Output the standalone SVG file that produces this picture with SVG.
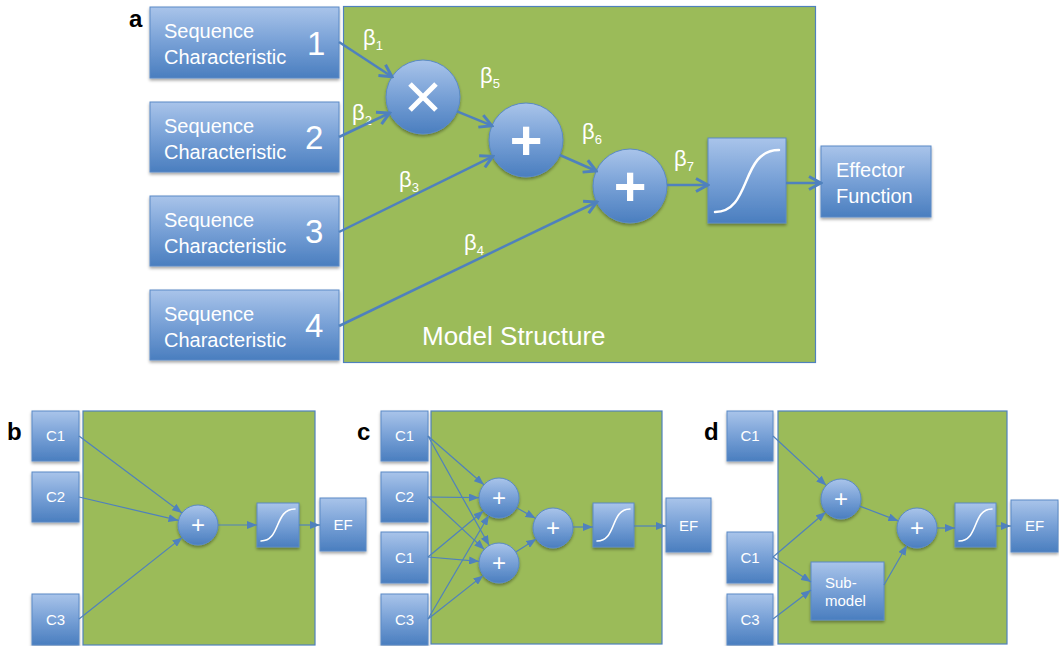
<svg xmlns="http://www.w3.org/2000/svg" width="1059" height="646" viewBox="0 0 1059 646">
  <defs>
    <linearGradient id="blueFill" x1="0" y1="0" x2="0" y2="1">
      <stop offset="0" stop-color="#a9c4ea"/>
      <stop offset="0.5" stop-color="#77a0d6"/>
      <stop offset="1" stop-color="#4a7ebf"/>
    </linearGradient>
    <filter id="shadow" x="-20%" y="-20%" width="140%" height="150%">
      <feDropShadow dx="0" dy="2" stdDeviation="1.5" flood-color="#000" flood-opacity="0.35"/>
    </filter>
    <marker id="openArrow" markerUnits="userSpaceOnUse" viewBox="0 0 16 16" refX="14" refY="8" markerWidth="16" markerHeight="16" orient="auto">
      <path d="M2,1.5 L14,8 L2,14.5" fill="none" stroke="#4f81bd" stroke-width="3" stroke-linejoin="miter"/>
    </marker>
    <marker id="tri" markerUnits="userSpaceOnUse" viewBox="0 0 10 8" refX="10" refY="4" markerWidth="10" markerHeight="8" orient="auto">
      <path d="M0,0 L10,4 L0,8 z" fill="#4f81bd"/>
    </marker>
  </defs>
  <style>
    .panel { fill: #9bbb59; stroke: #4f81bd; stroke-width: 1.2; }
    .box { fill: url(#blueFill); stroke: #5a8ac6; stroke-width: 1; filter: url(#shadow); }
    .node { fill: url(#blueFill); stroke: #5a8ac6; stroke-width: 1; filter: url(#shadow); }
    .sig { fill: none; stroke: #ffffff; stroke-width: 2.5; stroke-linecap: round; }
    .sigS { fill: none; stroke: #ffffff; stroke-width: 1.6; stroke-linecap: round; }
    .t { font-family: "Liberation Sans", Arial, sans-serif; fill: #ffffff; }
    .seq { font-size: 20px; }
    .num { font-size: 33px; }
    .beta { font-size: 22px; }
    .sub { font-size: 13px; }
    .small { font-size: 15px; text-anchor: middle; }
    .op { font-size: 56px; font-weight: bold; text-anchor: middle; }
    .opS { font-size: 24px; text-anchor: middle; }
    .lab { font-family: "Liberation Sans", Arial, sans-serif; font-weight: bold; font-size: 24px; fill: #000000; }
    .ca { fill: none; stroke: #4f81bd; stroke-width: 2.5; marker-end: url(#openArrow); }
    .cs { fill: none; stroke: #4f81bd; stroke-width: 1.2; marker-end: url(#tri); }
  </style>

  <!-- ===== Panel a ===== -->
  <text class="lab" x="129" y="27">a</text>
  <rect id="a-structure" class="panel" x="343.5" y="6.5" width="472" height="356"/>

  <g id="a-seq1">
    <rect class="box" x="150" y="7" width="189" height="71"/>
    <text class="t seq" x="164" y="38">Sequence</text>
    <text class="t seq" x="164" y="64">Characteristic</text>
    <text class="t num" x="307" y="55">1</text>
  </g>
  <g id="a-seq2">
    <rect class="box" x="150" y="102" width="189" height="70"/>
    <text class="t seq" x="164" y="133">Sequence</text>
    <text class="t seq" x="164" y="159">Characteristic</text>
    <text class="t num" x="305" y="149">2</text>
  </g>
  <g id="a-seq3">
    <rect class="box" x="150" y="196" width="189" height="70"/>
    <text class="t seq" x="164" y="227">Sequence</text>
    <text class="t seq" x="164" y="253">Characteristic</text>
    <text class="t num" x="305" y="243">3</text>
  </g>
  <g id="a-seq4">
    <rect class="box" x="150" y="290" width="189" height="70"/>
    <text class="t seq" x="164" y="321">Sequence</text>
    <text class="t seq" x="164" y="347">Characteristic</text>
    <text class="t num" x="305" y="337">4</text>
  </g>

  <g id="a-mult">
    <circle class="node" cx="423" cy="97" r="37"/>
    <path d="M410,84 L436,110 M436,84 L410,110" stroke="#ffffff" stroke-width="5"/>
  </g>
  <g id="a-sum1">
    <circle class="node" cx="526" cy="140" r="37"/>
    <text class="t op" x="526" y="159">+</text>
  </g>
  <g id="a-sum2">
    <circle class="node" cx="630" cy="186" r="37"/>
    <text class="t op" x="630" y="205">+</text>
  </g>
  <g id="a-sigmoid">
    <rect class="box" x="708" y="138" width="78" height="85"/>
    <path class="sig" d="M715,212 C752,212 740,150 779,150"/>
  </g>
  <g id="a-effector">
    <rect class="box" x="821" y="146" width="110" height="71"/>
    <text class="t seq" x="836" y="177">Effector</text>
    <text class="t seq" x="836" y="203">Function</text>
  </g>

  <text class="t" x="422" y="345" font-size="26">Model Structure</text>

  <g id="a-weights">
    <text class="t beta" x="363" y="45">β<tspan class="sub" dy="5">1</tspan></text>
    <text class="t beta" x="352" y="120">β<tspan class="sub" dy="5">2</tspan></text>
    <text class="t beta" x="399" y="187">β<tspan class="sub" dy="5">3</tspan></text>
    <text class="t beta" x="464" y="250">β<tspan class="sub" dy="5">4</tspan></text>
    <text class="t beta" x="480" y="83">β<tspan class="sub" dy="5">5</tspan></text>
    <text class="t beta" x="582" y="139">β<tspan class="sub" dy="5">6</tspan></text>
    <text class="t beta" x="674" y="166">β<tspan class="sub" dy="5">7</tspan></text>
  </g>

  <g id="a-connectors">
    <line class="ca" x1="339" y1="42" x2="392" y2="76.7"/>
    <line class="ca" x1="339" y1="137" x2="389.6" y2="113"/>
    <line class="ca" x1="339" y1="232" x2="492.8" y2="156.3"/>
    <line class="ca" x1="339" y1="326" x2="596.7" y2="202"/>
    <line class="ca" x1="457" y1="111.3" x2="491.9" y2="125.7"/>
    <line class="ca" x1="559.8" y1="155" x2="596.2" y2="171"/>
    <line class="ca" x1="667" y1="185" x2="708" y2="185"/>
    <line class="ca" x1="786" y1="183" x2="821" y2="183"/>
  </g>

  <!-- ===== Panel b ===== -->
  <text class="lab" x="7" y="440">b</text>
  <rect id="b-structure" class="panel" x="83" y="411" width="232" height="234"/>
  <g id="b-c1"><rect class="box" x="32" y="411" width="47" height="50"/><text class="t small" x="55.5" y="441">C1</text></g>
  <g id="b-c2"><rect class="box" x="32" y="472" width="47" height="50"/><text class="t small" x="55.5" y="502">C2</text></g>
  <g id="b-c3"><rect class="box" x="32" y="594" width="47" height="51"/><text class="t small" x="55.5" y="625">C3</text></g>
  <g id="b-sum"><circle class="node" cx="198" cy="525" r="20"/><text class="t opS" x="198" y="533">+</text></g>
  <g id="b-sigmoid"><rect class="box" x="257" y="503" width="42" height="44"/><path class="sigS" d="M261,541 C281,541 274,509 295,509"/></g>
  <g id="b-ef"><rect class="box" x="320" y="498" width="46" height="53"/><text class="t small" x="343" y="530">EF</text></g>
  <g id="b-connectors">
    <line class="cs" x1="79" y1="436" x2="182" y2="513"/>
    <line class="cs" x1="79" y1="497" x2="178.5" y2="520.4"/>
    <line class="cs" x1="79" y1="619" x2="182.3" y2="537.4"/>
    <line class="cs" x1="218" y1="525" x2="257" y2="525"/>
    <line class="cs" x1="299" y1="525" x2="320" y2="525"/>
  </g>

  <!-- ===== Panel c ===== -->
  <text class="lab" x="357" y="440">c</text>
  <rect id="c-structure" class="panel" x="431" y="411" width="231" height="233"/>
  <g id="c-c1"><rect class="box" x="381" y="411" width="47" height="50"/><text class="t small" x="404.5" y="441">C1</text></g>
  <g id="c-c2"><rect class="box" x="381" y="472" width="47" height="50"/><text class="t small" x="404.5" y="502">C2</text></g>
  <g id="c-c1b"><rect class="box" x="381" y="532" width="47" height="51"/><text class="t small" x="404.5" y="563">C1</text></g>
  <g id="c-c3"><rect class="box" x="381" y="594" width="47" height="51"/><text class="t small" x="404.5" y="625">C3</text></g>
  <g id="c-sum-top"><circle class="node" cx="499" cy="498" r="20"/><text class="t opS" x="499" y="506">+</text></g>
  <g id="c-sum-bottom"><circle class="node" cx="499" cy="563" r="20"/><text class="t opS" x="499" y="571">+</text></g>
  <g id="c-sum-mid"><circle class="node" cx="553" cy="528" r="20"/><text class="t opS" x="553" y="536">+</text></g>
  <g id="c-sigmoid"><rect class="box" x="593" y="503" width="41" height="44"/><path class="sigS" d="M597,541 C617,541 610,509 630,509"/></g>
  <g id="c-ef"><rect class="box" x="666" y="498" width="45" height="54"/><text class="t small" x="688.5" y="531">EF</text></g>
  <g id="c-connectors">
    <line class="cs" x1="428" y1="436" x2="483.9" y2="484.8"/>
    <line class="cs" x1="428" y1="436" x2="489.2" y2="545.5"/>
    <line class="cs" x1="428" y1="497" x2="479" y2="497.7"/>
    <line class="cs" x1="428" y1="497" x2="484.3" y2="549.4"/>
    <line class="cs" x1="428" y1="557" x2="483.6" y2="510.8"/>
    <line class="cs" x1="428" y1="557" x2="479.1" y2="561.3"/>
    <line class="cs" x1="428" y1="619" x2="488.9" y2="515.2"/>
    <line class="cs" x1="428" y1="619" x2="483.3" y2="575.4"/>
    <line class="cs" x1="516.5" y1="507.7" x2="535.5" y2="518.3"/>
    <line class="cs" x1="515.8" y1="552.1" x2="536.2" y2="538.9"/>
    <line class="cs" x1="573" y1="527" x2="593" y2="527"/>
    <line class="cs" x1="634" y1="526" x2="666" y2="526"/>
  </g>

  <!-- ===== Panel d ===== -->
  <text class="lab" x="704" y="440">d</text>
  <rect id="d-structure" class="panel" x="778" y="411" width="229" height="233"/>
  <g id="d-c1"><rect class="box" x="727" y="411" width="46" height="50"/><text class="t small" x="750" y="441">C1</text></g>
  <g id="d-c1b"><rect class="box" x="727" y="532" width="46" height="51"/><text class="t small" x="750" y="563">C1</text></g>
  <g id="d-c3"><rect class="box" x="727" y="594" width="46" height="51"/><text class="t small" x="750" y="625">C3</text></g>
  <g id="d-sum-top"><circle class="node" cx="841" cy="499" r="20"/><text class="t opS" x="841" y="507">+</text></g>
  <g id="d-sum-mid"><circle class="node" cx="917" cy="528" r="20"/><text class="t opS" x="917" y="536">+</text></g>
  <g id="d-submodel">
    <rect class="box" x="811" y="562" width="73" height="58"/>
    <text class="t" x="825" y="588" font-size="15">Sub-</text>
    <text class="t" x="825" y="606" font-size="15">model</text>
  </g>
  <g id="d-sigmoid"><rect class="box" x="955" y="503" width="41" height="44"/><path class="sigS" d="M959,541 C979,541 972,509 992,509"/></g>
  <g id="d-ef"><rect class="box" x="1011" y="500" width="47" height="52"/><text class="t small" x="1034.5" y="531">EF</text></g>
  <g id="d-connectors">
    <line class="cs" x1="773" y1="436" x2="826.3" y2="485.4"/>
    <line class="cs" x1="773" y1="557" x2="825.8" y2="512"/>
    <line class="cs" x1="773" y1="557" x2="811" y2="582"/>
    <line class="cs" x1="773" y1="619" x2="811" y2="590"/>
    <line class="cs" x1="859.7" y1="506.1" x2="898.3" y2="520.9"/>
    <line class="cs" x1="884" y1="585" x2="907" y2="545.3"/>
    <line class="cs" x1="937" y1="528" x2="955" y2="528"/>
    <line class="cs" x1="996" y1="526" x2="1011" y2="526"/>
  </g>
</svg>
